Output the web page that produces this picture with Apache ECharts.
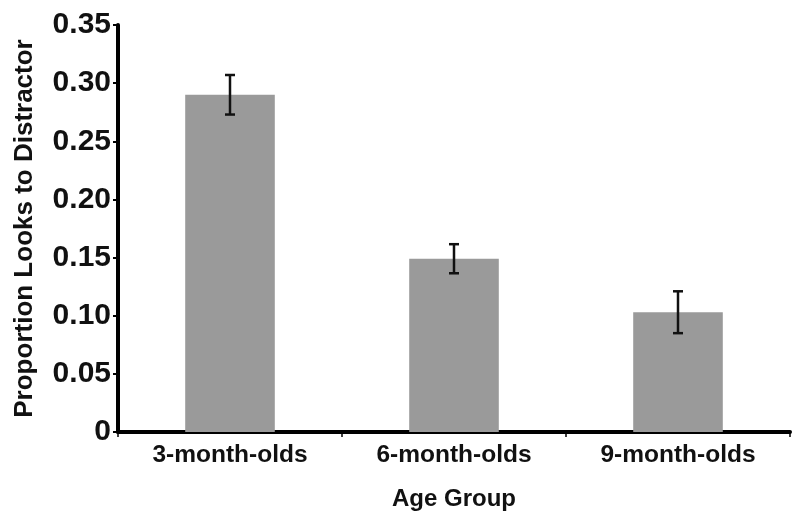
<!DOCTYPE html>
<html>
<head>
<meta charset="utf-8">
<script src="https://cdn.jsdelivr.net/npm/echarts@6/dist/echarts.min.js"></script>
<style>
  html, body { margin: 0; padding: 0; background: #fff; }
  #chart { width: 800px; height: 524px; }
</style>
</head>
<body>
<div id="chart"></div>
<script>
const categories = ['3-month-olds', '6-month-olds', '9-month-olds']
const means = [0.290, 0.149, 0.103]
const errors = [0.017, 0.0125, 0.018]

const chart = echarts.init(document.getElementById('chart'))
const font = 'Liberation Sans, Arial, sans-serif'

const option = {
  backgroundColor: '#fff',
  animation: false,
  grid: { left: 118, right: 10, top: 25, bottom: 92 },
  xAxis: {
    type: 'category',
    data: categories,
    name: 'Age Group',
    nameLocation: 'middle',
    nameGap: 55,
    nameTextStyle: { color: '#111', fontSize: 24, fontWeight: 'bold', fontFamily: font },
    axisLine: { lineStyle: { color: '#000', width: 4 } },
    axisTick: { show: true, length: 5, lineStyle: { color: '#000', width: 1.5 } },
    axisLabel: { color: '#111', fontSize: 24.5, fontWeight: 'bold', fontFamily: font, margin: 11 }
  },
  yAxis: {
    type: 'value',
    min: 0,
    max: 0.35,
    interval: 0.05,
    name: 'Proportion Looks to Distractor',
    nameLocation: 'middle',
    nameGap: 80,
    nameTextStyle: { color: '#111', fontSize: 26, fontWeight: 'bold', fontFamily: font },
    axisLine: { show: true, lineStyle: { color: '#000', width: 4 } },
    axisTick: { show: true, length: 5, lineStyle: { color: '#000', width: 2 } },
    splitLine: { show: false },
    axisLabel: {
      color: '#111', fontSize: 30, fontWeight: 'bold', fontFamily: font, margin: 7,
      formatter: v => (v === 0 ? '0' : v.toFixed(2))
    }
  },
  series: [
    {
      type: 'bar',
      data: means,
      barWidth: '40%',
      itemStyle: { color: '#9a9a9a' }
    },
    {
      type: 'custom',
      z: 10,
      data: means.map((m, i) => [i, m, errors[i]]),
      renderItem: (params, api) => {
        const i = api.value(0)
        const m = api.value(1)
        const e = api.value(2)
        const top = api.coord([i, m + e])
        const bot = api.coord([i, m - e])
        const hw = 5
        const style = { stroke: '#111', lineWidth: 2.5 }
        return {
          type: 'group',
          children: [
            { type: 'line', shape: { x1: top[0], y1: top[1], x2: bot[0], y2: bot[1] }, style },
            { type: 'line', shape: { x1: top[0] - hw, y1: top[1], x2: top[0] + hw, y2: top[1] }, style },
            { type: 'line', shape: { x1: bot[0] - hw, y1: bot[1], x2: bot[0] + hw, y2: bot[1] }, style }
          ]
        }
      }
    }
  ]
}

chart.setOption(option)
</script>
</body>
</html>
